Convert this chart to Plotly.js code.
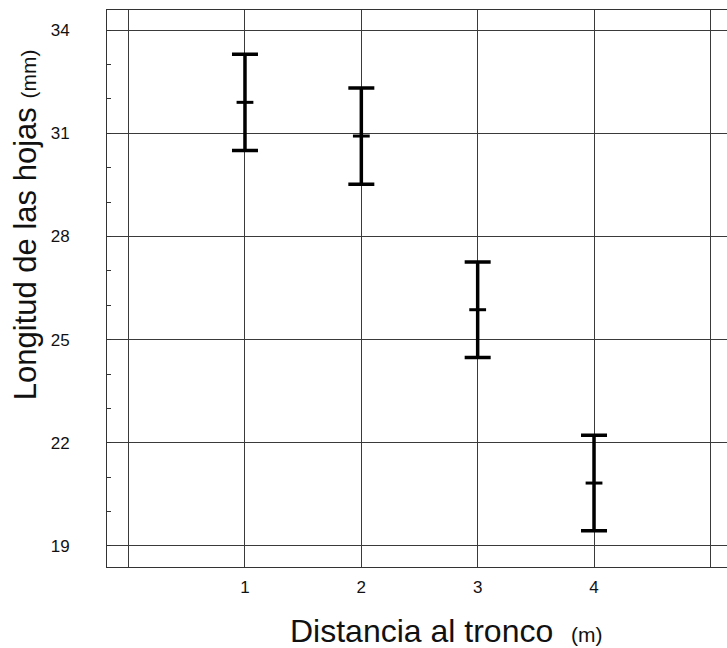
<!DOCTYPE html>
<html>
<head>
<meta charset="utf-8">
<script src="https://cdn.plot.ly/plotly-3.0.1.min.js"></script>
<style>html,body{margin:0;padding:0;background:#fff;}</style>
</head>
<body>
<div id="chart" style="width:727px;height:648px;"></div>
<script>
// Data
const distances = [1, 2, 3, 4];
const meanLength = [31.9, 30.92, 25.87, 20.83];
const errLength = [1.4, 1.4, 1.39, 1.39];
const xTickVals = [0, 1, 2, 3, 4, 5];
const xTickText = ['', '1', '2', '3', '4', ''];
const yTickVals = [19, 22, 25, 28, 31, 34];
const yTickText = ['19', '22', '25', '28', '31', '34'];

const trace = {
  type: 'scatter',
  mode: 'markers',
  x: distances,
  y: meanLength,
  marker: {symbol: 'line-ew', size: 12, color: '#000', line: {color: '#000', width: 3}},
  error_y: {type: 'data', array: errLength, visible: true, color: '#000', thickness: 3.5, width: 13},
  hoverinfo: 'skip',
  showlegend: false
};

const layout = {
  width: 727, height: 648,
  margin: {l: 107, r: 0, t: 10, b: 81},
  paper_bgcolor: '#fff', plot_bgcolor: '#fff',
  font: {family: '"Liberation Sans", Arial, sans-serif', color: '#111', size: 16},
  xaxis: {
    range: [-0.186, 5.143],
    tickvals: xTickVals, ticktext: xTickText,
    showgrid: true, gridcolor: '#3a3a3a', gridwidth: 1,
    zeroline: false,
    showline: true, linecolor: '#333', linewidth: 1, mirror: true,
    ticks: '', ticklabelstandoff: 5,
    tickfont: {size: 17, color: '#111'}
  },
  yaxis: {
    range: [18.389, 34.585],
    tickvals: yTickVals, ticktext: yTickText,
    showgrid: true, gridcolor: '#3a3a3a', gridwidth: 1,
    zeroline: false,
    showline: true, linecolor: '#333', linewidth: 1, mirror: false,
    ticks: 'inside', ticklen: 4, tickcolor: '#333',
    ticklabelstandoff: 33,
    tickfont: {size: 17, color: '#111'},
    minor: {dtick: 1, tick0: 19, ticks: 'inside', ticklen: 4, tickcolor: '#333', showgrid: false}
  },
  annotations: [
    {
      text: 'Longitud de las hojas <span style="font-size:21px">(mm)</span>',
      xref: 'paper', yref: 'paper', x: -0.131, y: 0.615,
      xanchor: 'center', yanchor: 'middle', textangle: -90, showarrow: false,
      font: {size: 31, color: '#111'}
    },
    {
      text: 'Distancia al tronco&nbsp;&nbsp;<span style="font-size:21px">(m)</span>',
      xref: 'paper', yref: 'paper', x: 0.548, y: -0.115,
      xanchor: 'center', yanchor: 'middle', showarrow: false,
      font: {size: 32, color: '#111'}
    }
  ]
};

Plotly.newPlot('chart', [trace], layout, {displayModeBar: false, staticPlot: true});
</script>
</body>
</html>
